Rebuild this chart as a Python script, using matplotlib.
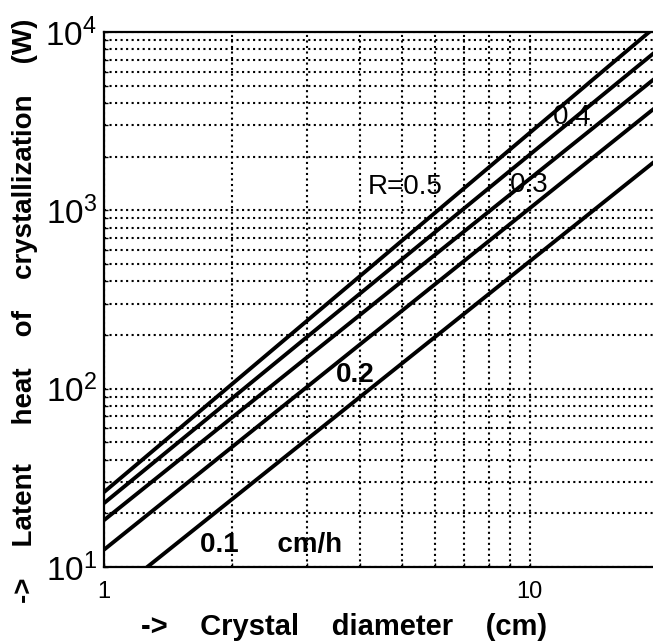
import matplotlib
matplotlib.use("Agg")
import matplotlib.pyplot as plt
from matplotlib.ticker import FixedLocator, FixedFormatter, LogLocator, NullFormatter

plt.rcParams['font.family'] = ['Liberation Sans', 'DejaVu Sans']
plt.rcParams['mathtext.default'] = 'regular'

# Data
diameter = [1, 20]                      # cm
Q_R05 = [26.3, 11000]
Q_R04 = [22.8, 7960]
Q_R03 = [18.3, 5670]
Q_R02 = [12.5, 3875]
Q_R01 = [6.4, 1945]
series = [Q_R05, Q_R04, Q_R03, Q_R02, Q_R01]

x_ticks = [1, 10]
x_ticklabels = ['1', '10']
y_ticks = [10, 100, 1000, 10000]
y_ticklabels = ['$10^{1}$', '$10^{2}$', '$10^{3}$', '$10^{4}$']

# annotation labels: (text, d, Q)
ann_text = ['R=0.5', '0.4', '0.3', '0.2', '0.1     cm/h']
ann_d = [5.09, 12.55, 9.95, 3.90, 2.47]
ann_Q = [1346, 3320, 1380, 119, 13.3]
ann_bold = [False, False, False, True, True]

W, H = 653, 644
fig = plt.figure(figsize=(W / 100, H / 100), dpi=100)
left, bottom = 104 / W, (H - 567) / H
width, height = 554 / W, (567 - 32) / H
ax = fig.add_axes([left, bottom, width, height])
ax.set_xscale('log')
ax.set_yscale('log')
ax.set_xlim(1, 20)
ax.set_ylim(10, 10000)

for q in series:
    ax.plot(diameter, q, color='black', lw=2.8, solid_capstyle='butt')

ax.xaxis.set_major_locator(FixedLocator(x_ticks))
ax.xaxis.set_major_formatter(FixedFormatter(x_ticklabels))
ax.xaxis.set_minor_locator(LogLocator(base=10, subs=range(2, 10)))
ax.xaxis.set_minor_formatter(NullFormatter())
ax.yaxis.set_major_locator(FixedLocator(y_ticks))
ax.yaxis.set_major_formatter(FixedFormatter(y_ticklabels))
ax.yaxis.set_minor_locator(LogLocator(base=10, subs=range(2, 10)))
ax.yaxis.set_minor_formatter(NullFormatter())

ax.grid(True, which='both', color='black', linestyle=':', linewidth=1.5)
ax.tick_params(which='both', direction='in', length=3, width=1)
ax.tick_params(axis='y', which='major', labelsize=24, pad=5)
ax.tick_params(axis='x', which='major', labelsize=17, pad=10)
ax.spines['right'].set_visible(False)
for s in ['left', 'bottom', 'top']:
    ax.spines[s].set_linewidth(1.6)

for t, d, q, b in zip(ann_text, ann_d, ann_Q, ann_bold):
    ax.text(d, q, t, fontsize=20, ha='center', va='center',
            fontweight='bold' if b else 'normal', color='black')

fig.text(344.5 / W, (H - 627) / H, '->    Crystal    diameter    (cm)',
         fontsize=21, fontweight='bold', ha='center', va='center')
fig.text(25 / W, (H - 603) / H,
         '->    Latent     heat    of    crystallization    (W)',
         fontsize=20, fontweight='bold', rotation=90, ha='center', va='bottom')

fig.savefig('out.png', dpi=100)
